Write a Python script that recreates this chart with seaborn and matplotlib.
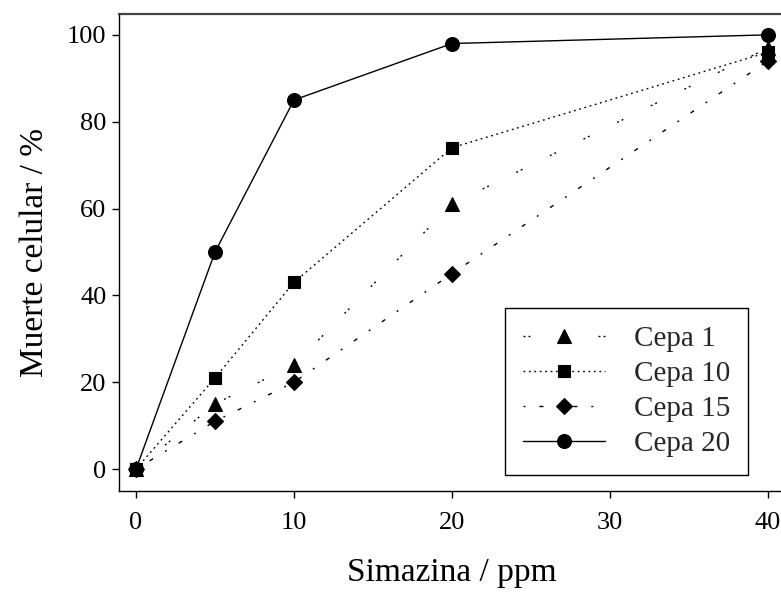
import matplotlib
matplotlib.use("Agg")
import matplotlib.pyplot as plt
import seaborn as sns
import pandas as pd

# ---- data ----
simazina = [0, 5, 10, 20, 40]
cepa_1 = [0, 15, 24, 61, 97]
cepa_10 = [0, 21, 43, 74, 96]
cepa_15 = [0, 11, 20, 45, 94]
cepa_20 = [0, 50, 85, 98, 100]
series_names = ["Cepa 1", "Cepa 10", "Cepa 15", "Cepa 20"]
x_ticks = [0, 10, 20, 30, 40]
y_ticks = [0, 20, 40, 60, 80, 100]

sns.set_theme(style="ticks")
plt.rcParams["font.family"] = ["Liberation Serif", "DejaVu Serif"]

fig = plt.figure(figsize=(7.81, 5.92), dpi=100)
ax = fig.add_axes([119 / 781, (592 - 491) / 592, 666 / 781, 477 / 592])

styles = {
    "Cepa 1": dict(marker="^", ms=10, ls=(0, (1.4, 2.2, 1.4, 22))),
    "Cepa 10": dict(marker="s", ms=9, ls=(0, (1.3, 2.6))),
    "Cepa 15": dict(marker="D", ms=8.5, ls=(0, (1.4, 10, 3, 10))),
    "Cepa 20": dict(marker="o", ms=10, ls="-"),
}
values = {"Cepa 1": cepa_1, "Cepa 10": cepa_10, "Cepa 15": cepa_15, "Cepa 20": cepa_20}

for name in series_names:
    df = pd.DataFrame({"x": simazina, "y": values[name]})
    st = styles[name]
    sns.lineplot(data=df, x="x", y="y", ax=ax, color="black", linewidth=1.0,
                 linestyle=st["ls"], marker=st["marker"], markersize=st["ms"],
                 markeredgecolor="black", markeredgewidth=0.8, markerfacecolor="black",
                 label=name, legend=False)

ax.set_xlim(-1.08, 41.08)
ax.set_ylim(-5.06, 104.8)
ax.set_xticks(x_ticks)
ax.set_yticks(y_ticks)
ax.tick_params(axis="both", direction="out", length=5, width=1, color="black",
               labelsize=19, labelcolor="black")
ax.tick_params(axis="x", pad=10)
ax.tick_params(axis="y", pad=4)
for sp in ["left", "bottom", "top"]:
    ax.spines[sp].set_visible(True)
    ax.spines[sp].set_color("black")
    ax.spines[sp].set_linewidth(1.0)
ax.spines["top"].set_color("#444444")
ax.spines["top"].set_linewidth(1.6)
ax.spines["right"].set_visible(False)

ax.set_xlabel("Simazina / ppm", fontsize=24, color="black", labelpad=17)
ax.set_ylabel("Muerte celular / %", fontsize=24, color="black", labelpad=12)

leg = ax.legend(loc="lower right", bbox_to_anchor=(0.944, 0.034), borderaxespad=0,
                fontsize=21, frameon=True, fancybox=False, edgecolor="black",
                handlelength=2.8, labelspacing=0.3, borderpad=0.6, handletextpad=1.0)
leg.get_frame().set_linewidth(1.0)
leg.get_frame().set_alpha(1)

fig.savefig("out.png", dpi=100)
